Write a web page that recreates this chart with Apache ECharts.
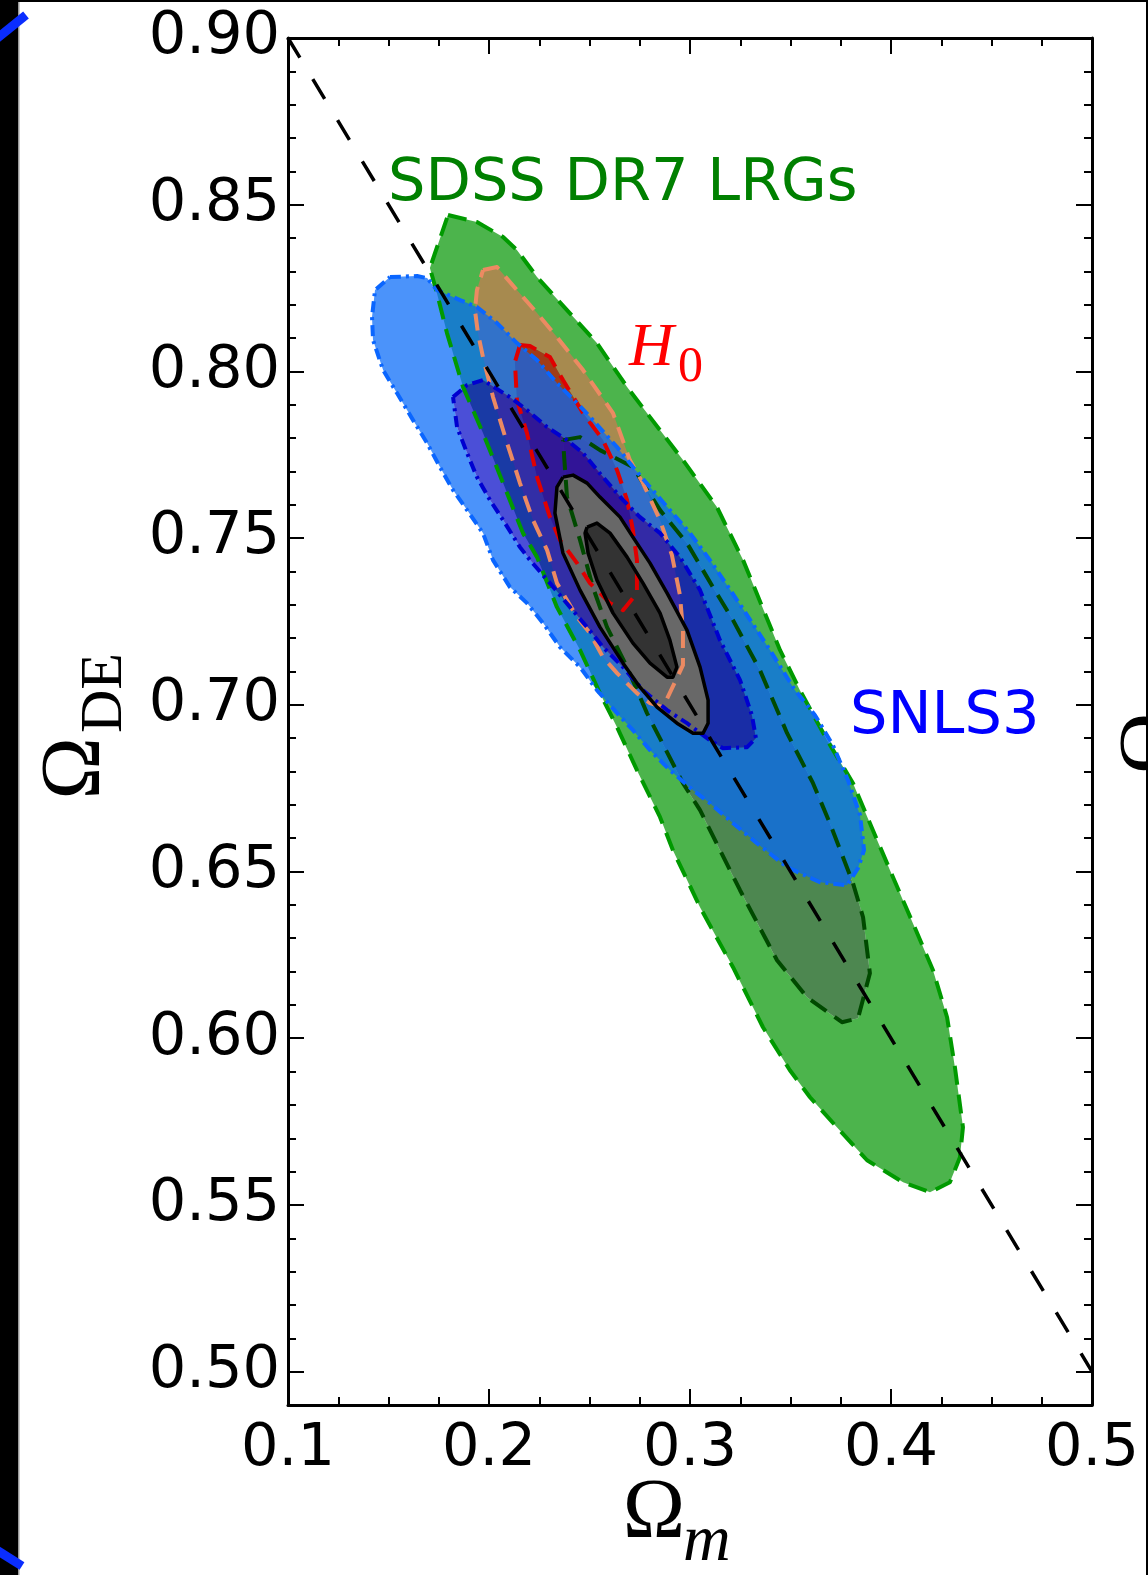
<!DOCTYPE html>
<html>
<head>
<meta charset="utf-8">
<script src="https://cdn.jsdelivr.net/npm/echarts@6/dist/echarts.min.js"></script>
<style>
html, body { margin: 0; padding: 0; background: #fff; }
#main { width: 1148px; height: 1575px; }
</style>
</head>
<body>
<div id="main"></div>
<script>
// contour vertices, each point is [Omega_m, Omega_DE]
var sdssOuter = [[0.1796,0.8469],[0.1940,0.8448],[0.2070,0.8403],[0.2139,0.8364],[0.2239,0.8283],[0.2388,0.8184],
  [0.2537,0.8085],[0.2687,0.7953],[0.2801,0.7863],[0.2965,0.7734],[0.3134,0.7593],[0.3264,0.7434],[0.3448,0.7164],
  [0.3547,0.7044],[0.3682,0.6894],[0.3811,0.6765],[0.3910,0.6624],[0.4010,0.6483],[0.4109,0.6345],[0.4209,0.6204],
  [0.4279,0.6063],[0.4318,0.5913],[0.4358,0.5733],[0.4343,0.5643],[0.4293,0.5568],[0.4194,0.5538],[0.4060,0.5568],
  [0.3881,0.5634],[0.3731,0.5733],[0.3597,0.5823],[0.3497,0.5904],[0.3363,0.6033],[0.3214,0.6213],[0.3050,0.6393],
  [0.2915,0.6564],[0.2851,0.6663],[0.2736,0.6804],[0.2637,0.6933],[0.2552,0.7035],[0.2453,0.7164],[0.2338,0.7293],
  [0.2239,0.7443],[0.2169,0.7515],[0.2070,0.7665],[0.1970,0.7815],[0.1871,0.7953],[0.1791,0.8115],[0.1741,0.8235],
  [0.1706,0.8310]];
var sdssInner = [[0.2368,0.7794],[0.2453,0.7803],[0.2552,0.7764],[0.2716,0.7713],[0.2851,0.7584],[0.2985,0.7485],
  [0.3114,0.7353],[0.3214,0.7254],[0.3348,0.7104],[0.3483,0.6915],[0.3612,0.6765],[0.3696,0.6645],[0.3811,0.6465],
  [0.3861,0.6363],[0.3895,0.6195],[0.3836,0.6060],[0.3756,0.6048],[0.3582,0.6123],[0.3433,0.6234],[0.3249,0.6444],
  [0.3050,0.6684],[0.2965,0.6765],[0.2786,0.6975],[0.2687,0.7113],[0.2587,0.7233],[0.2517,0.7353],[0.2453,0.7494],
  [0.2388,0.7623]];
var h0Outer = [[0.1970,0.8304],[0.2040,0.8313],[0.2169,0.8223],[0.2239,0.8175],[0.2338,0.8103],[0.2468,0.8004],
  [0.2617,0.7875],[0.2701,0.7734],[0.2766,0.7665],[0.2851,0.7554],[0.2910,0.7449],[0.2950,0.7329],[0.2965,0.7224],
  [0.2965,0.7119],[0.2866,0.6993],[0.2801,0.7005],[0.2736,0.7035],[0.2637,0.7095],[0.2567,0.7143],[0.2502,0.7215],
  [0.2438,0.7263],[0.2338,0.7365],[0.2289,0.7464],[0.2219,0.7554],[0.2154,0.7665],[0.2090,0.7785],[0.2055,0.7854],
  [0.2020,0.7923],[0.1970,0.8043],[0.1945,0.8115],[0.1930,0.8184],[0.1940,0.8244]];
var h0Inner = [[0.2154,0.8079],[0.2204,0.8076],[0.2303,0.8043],[0.2368,0.7974],[0.2468,0.7875],[0.2567,0.7794],
  [0.2637,0.7704],[0.2687,0.7614],[0.2716,0.7524],[0.2736,0.7434],[0.2736,0.7335],[0.2667,0.7284],[0.2602,0.7305],
  [0.2502,0.7365],[0.2438,0.7425],[0.2353,0.7494],[0.2303,0.7563],[0.2239,0.7683],[0.2189,0.7815],[0.2139,0.7914],
  [0.2129,0.8028]];
var snlsOuter = [[0.1507,0.8283],[0.1642,0.8286],[0.1692,0.8280],[0.1741,0.8244],[0.1856,0.8214],[0.1940,0.8193],
  [0.2040,0.8145],[0.2139,0.8085],[0.2239,0.8034],[0.2338,0.7965],[0.2438,0.7905],[0.2517,0.7854],[0.2637,0.7773],
  [0.2716,0.7713],[0.2801,0.7653],[0.2900,0.7584],[0.3000,0.7515],[0.3099,0.7434],[0.3184,0.7359],[0.3274,0.7278],
  [0.3398,0.7164],[0.3522,0.7044],[0.3622,0.6969],[0.3711,0.6879],[0.3786,0.6774],[0.3846,0.6669],[0.3866,0.6564],
  [0.3836,0.6510],[0.3781,0.6459],[0.3647,0.6468],[0.3483,0.6513],[0.3333,0.6585],[0.3214,0.6645],[0.3099,0.6705],
  [0.3015,0.6744],[0.2900,0.6804],[0.2801,0.6864],[0.2716,0.6924],[0.2637,0.6975],[0.2537,0.7044],[0.2453,0.7113],
  [0.2353,0.7173],[0.2269,0.7245],[0.2189,0.7305],[0.2104,0.7353],[0.2020,0.7434],[0.1970,0.7515],[0.1891,0.7584],
  [0.1821,0.7644],[0.1756,0.7713],[0.1692,0.7785],[0.1622,0.7854],[0.1542,0.7935],[0.1473,0.8004],[0.1423,0.8094],
  [0.1418,0.8163],[0.1433,0.8244]];
var snlsInner = [[0.1821,0.7923],[0.1891,0.7959],[0.1970,0.7974],[0.2104,0.7923],[0.2189,0.7884],[0.2289,0.7833],
  [0.2388,0.7794],[0.2468,0.7755],[0.2567,0.7683],[0.2667,0.7614],[0.2751,0.7563],[0.2851,0.7515],[0.2950,0.7443],
  [0.3050,0.7344],[0.3149,0.7194],[0.3249,0.7074],[0.3308,0.6969],[0.3328,0.6900],[0.3284,0.6873],[0.3164,0.6870],
  [0.3099,0.6894],[0.2985,0.6945],[0.2886,0.6984],[0.2766,0.7044],[0.2667,0.7113],[0.2567,0.7173],[0.2488,0.7233],
  [0.2403,0.7293],[0.2303,0.7365],[0.2204,0.7434],[0.2154,0.7473],[0.2070,0.7554],[0.2005,0.7614],[0.1940,0.7683],
  [0.1891,0.7755],[0.1841,0.7833]];
var combOuter = [[0.2368,0.7683],[0.2418,0.7689],[0.2488,0.7665],[0.2552,0.7623],[0.2652,0.7563],[0.2716,0.7503],
  [0.2801,0.7425],[0.2886,0.7335],[0.2985,0.7224],[0.3050,0.7113],[0.3090,0.7014],[0.3090,0.6945],[0.3065,0.6915],
  [0.3015,0.6915],[0.2935,0.6945],[0.2836,0.6993],[0.2751,0.7053],[0.2667,0.7125],[0.2552,0.7233],[0.2453,0.7344],
  [0.2368,0.7455],[0.2328,0.7575],[0.2338,0.7653]];
var combInner = [[0.2488,0.7533],[0.2537,0.7545],[0.2602,0.7515],[0.2687,0.7443],[0.2766,0.7365],[0.2851,0.7275],
  [0.2900,0.7194],[0.2935,0.7113],[0.2915,0.7083],[0.2886,0.7083],[0.2801,0.7125],[0.2716,0.7185],[0.2617,0.7275],
  [0.2537,0.7374],[0.2493,0.7455],[0.2478,0.7515]];

// flat universe line
var flatOm = [0.1, 0.5];
var flatDE = [0.9, 0.5];

var yMajor = [0.50, 0.55, 0.60, 0.65, 0.70, 0.75, 0.80, 0.85, 0.90];
var yMinor = [];
for (var k = 49; k <= 90; k++) yMinor.push(k / 100);

var fills = [
  { ring: sdssOuter, hole: sdssInner, color: 'rgba(0,148,0,0.7)' },
  { ring: sdssInner, color: 'rgba(2,84,5,0.7)' },
  { ring: h0Outer, hole: h0Inner, color: 'rgba(207,120,81,0.7)' },
  { ring: h0Inner, color: 'rgba(196,9,3,0.7)' },
  { ring: snlsOuter, hole: snlsInner, color: 'rgba(5,105,248,0.72)' },
  { ring: snlsInner, color: 'rgba(5,11,200,0.72)' },
  { ring: combOuter, hole: combInner, color: '#686868' },
  { ring: combInner, color: '#333333' }
];
var edges = [
  { ring: sdssOuter, color: '#009a00', dash: [19, 10], width: 4 },
  { ring: sdssInner, color: '#004a00', dash: [19, 10], width: 4 },
  { ring: h0Outer, color: '#ec8a62', dash: [17, 10], width: 4 },
  { ring: h0Inner, color: '#e00000', dash: [17, 10], width: 4 },
  { ring: snlsOuter, color: '#0a66ff', dash: [11, 5, 3, 5], width: 4 },
  { ring: snlsInner, color: '#0000d0', dash: [11, 5, 3, 5], width: 4 },
  { ring: combOuter, color: '#000', dash: null, width: 3.5 },
  { ring: combInner, color: '#000', dash: null, width: 3.5 }
];

function toPx(ring, api) {
  return ring.map(function (p) { return api.coord(p); });
}
function signedArea(pts) {
  var s = 0;
  for (var i = 0; i < pts.length; i++) {
    var a = pts[i], b = pts[(i + 1) % pts.length];
    s += a[0] * b[1] - b[0] * a[1];
  }
  return s;
}
function ringD(pts) {
  return 'M' + pts.map(function (p) { return p[0].toFixed(1) + ' ' + p[1].toFixed(1); }).join(' L') + ' Z';
}
function txt(x, y, text, font, color, align) {
  return {
    type: 'text', x: x, y: y,
    style: { text: text, fill: color, font: font, textAlign: align, textVerticalAlign: 'middle', align: align, verticalAlign: 'middle' }
  };
}

var myChart = echarts.init(document.getElementById('main'));

var tickLine = { color: '#000', width: 2 };
var axisLine = { show: true, onZero: false, lineStyle: { color: '#000', width: 3 } };
var labelFont = { fontSize: 59, fontFamily: 'DejaVu Sans', color: '#000' };
var omegaFont = '84px "Liberation Serif"';

var option = {
  backgroundColor: '#fff',
  animation: false,
  grid: { left: 288, right: 56, top: 38, bottom: 170, containLabel: false, outerBoundsMode: 'none' },
  xAxis: [
    {
      type: 'value', position: 'bottom', min: 0.1, max: 0.5, interval: 0.1,
      axisLine: axisLine,
      axisTick: { show: true, inside: true, length: 16, lineStyle: tickLine },
      minorTick: { show: true, splitNumber: 4, length: 8, lineStyle: tickLine },
      axisLabel: Object.assign({ margin: 15, formatter: function (v) { return v.toFixed(1); } }, labelFont),
      splitLine: { show: false }
    },
    {
      type: 'value', position: 'top', min: 0.1, max: 0.5, interval: 0.1,
      axisLine: axisLine,
      axisTick: { show: true, inside: true, length: 16, lineStyle: tickLine },
      minorTick: { show: true, splitNumber: 4, length: 8, lineStyle: tickLine },
      axisLabel: { show: false },
      splitLine: { show: false }
    }
  ],
  yAxis: [
    {
      type: 'value', position: 'left', min: 0.49, max: 0.90,
      axisLine: axisLine,
      axisTick: { show: true, inside: true, length: 16, lineStyle: tickLine, customValues: yMajor },
      axisLabel: Object.assign({ margin: 8, customValues: yMajor, formatter: function (v) { return v.toFixed(2); } }, labelFont),
      splitLine: { show: false }
    },
    {
      type: 'value', position: 'left', min: 0.49, max: 0.90,
      axisLine: { show: false },
      axisTick: { show: true, inside: true, length: 8, lineStyle: tickLine, customValues: yMinor },
      axisLabel: { show: false },
      splitLine: { show: false }
    },
    {
      type: 'value', position: 'right', min: 0.49, max: 0.90,
      axisLine: axisLine,
      axisTick: { show: true, inside: true, length: 16, lineStyle: tickLine, customValues: yMajor },
      axisLabel: { show: false },
      splitLine: { show: false }
    },
    {
      type: 'value', position: 'right', min: 0.49, max: 0.90,
      axisLine: { show: false },
      axisTick: { show: true, inside: true, length: 8, lineStyle: tickLine, customValues: yMinor },
      axisLabel: { show: false },
      splitLine: { show: false }
    }
  ],
  series: [
    {
      type: 'custom', name: 'fills', clip: true, silent: true, z: 2,
      data: fills.map(function () { return [0.3, 0.7]; }),
      renderItem: function (params, api) {
        var f = fills[params.dataIndex];
        var outer = toPx(f.ring, api);
        var d = ringD(outer);
        if (f.hole) {
          var inner = toPx(f.hole, api);
          if ((signedArea(outer) > 0) === (signedArea(inner) > 0)) inner.reverse();
          d += ' ' + ringD(inner);
        }
        return { type: 'path', shape: { pathData: d }, style: { fill: f.color, stroke: null } };
      }
    },
    {
      type: 'custom', name: 'edges', clip: true, silent: true, z: 3,
      data: edges.map(function () { return [0.3, 0.7]; }),
      renderItem: function (params, api) {
        var e = edges[params.dataIndex];
        var pts = toPx(e.ring, api);
        pts.push(pts[0]);
        return {
          type: 'polyline', shape: { points: pts },
          style: { fill: 'none', stroke: e.color, lineWidth: e.width, lineDash: e.dash, lineJoin: 'round' }
        };
      }
    },
    {
      type: 'line', name: 'flat', z: 4, silent: true, symbol: 'none',
      data: flatOm.map(function (x, i) { return [x, flatDE[i]]; }),
      lineStyle: { color: '#000', width: 3.5, type: [23, 25] }
    }
  ],
  graphic: [
    { type: 'rect', shape: { x: 0, y: 0, width: 18, height: 1575 }, style: { fill: '#000' } },
    { type: 'rect', shape: { x: 18, y: 0, width: 1.5, height: 1575 }, style: { fill: '#999' } },
    { type: 'rect', shape: { x: 18, y: 0, width: 1130, height: 2 }, style: { fill: '#000' } },
    { type: 'rect', shape: { x: 1146, y: 0, width: 2, height: 1575 }, style: { fill: '#000' } },
    { type: 'line', shape: { x1: -5, y1: 40, x2: 26, y2: 15 }, style: { stroke: '#0a2dff', lineWidth: 9 } },
    { type: 'line', shape: { x1: -5, y1: 1549, x2: 22, y2: 1566 }, style: { stroke: '#0a2dff', lineWidth: 9 } },
    txt(388, 185, 'SDSS DR7 LRGs', '59px "DejaVu Sans"', '#008000', 'left'),
    txt(850, 718, 'SNLS3', '59px "DejaVu Sans"', '#0000ff', 'left'),
    txt(629, 349, 'H', 'italic 62px "Liberation Serif"', '#ff0000', 'left'),
    txt(678, 368, '0', '50px "Liberation Serif"', '#ff0000', 'left'),
    txt(654, 1515, 'Ω', omegaFont, '#000', 'center'),
    txt(683, 1543, 'm', 'italic 66px "Liberation Serif"', '#000', 'left'),
    {
      type: 'group', x: 105, y: 721, rotation: Math.PI / 2,
      children: [
        txt(-16, -28, 'Ω', omegaFont, '#000', 'right'),
        txt(-12, 0, 'DE', '60px "Liberation Serif"', '#000', 'left')
      ]
    },
    {
      type: 'group', x: 1183, y: 696, rotation: Math.PI / 2,
      children: [
        txt(-16, -28, 'Ω', omegaFont, '#000', 'right')
      ]
    }
  ]
};
myChart.setOption(option);
</script>
</body>
</html>
